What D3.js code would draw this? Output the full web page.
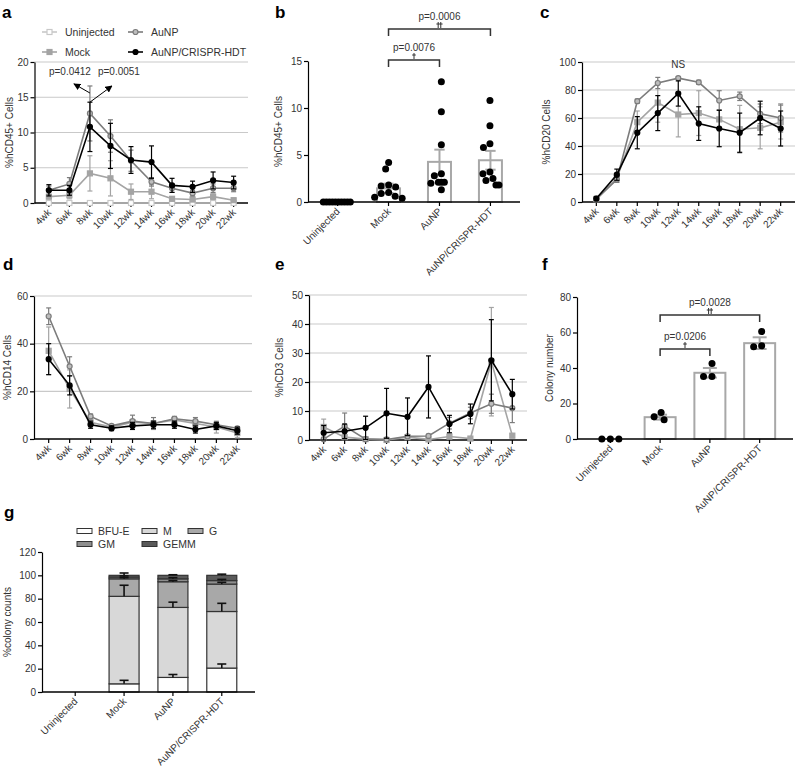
<!DOCTYPE html>
<html><head><meta charset="utf-8">
<script src="https://cdn.jsdelivr.net/npm/d3@7"></script>
<style>body{margin:0;background:#fff}svg text{font-family:"Liberation Sans",Arial,sans-serif}</style>
</head><body><svg id="c" width="800" height="769"></svg>
<script>
// ---------- DATA ----------
const weeks = ["4wk","6wk","8wk","10wk","12wk","14wk","16wk","18wk","20wk","22wk"];
const groups = ["Uninjected","Mock","AuNP","AuNP/CRISPR-HDT"];

// a: %hCD45+ over time
const aUninjected = [0,0,0,0,0,0,0,0,0,0];
const aUninjectedErr = [0,0,0,0,0,0,0,0,0,0];
const aMock = [0.9,1.1,4.2,3.5,1.6,1.6,0.6,0.5,0.9,0.4];
const aMockErr = [0.3,0.5,2.5,2.5,1.1,1.0,0.3,0.3,0.4,0.2];
const aAuNP = [1.8,2.7,12.7,9.5,6.0,3.0,2.1,1.4,2.1,2.1];
const aAuNPErr = [0.6,0.9,3.9,2.3,1.5,0.6,0.6,0.4,0.6,0.5];
const aHDT = [1.8,1.8,10.8,8.1,6.1,5.8,2.5,2.3,3.2,2.9];
const aHDTErr = [0.8,0.7,3.5,3.2,1.9,2.3,1.0,0.8,1.2,0.9];

// b: %hCD45+ individual mice
const bUninjected = [0,0,0,0,0,0,0,0,0,0];
const bMock = [4.2,3.5,1.8,1.7,1.6,1.0,0.9,0.6,0.5,0.4];
const bAuNP = [12.8,9.6,6.1,3.0,2.8,2.1,2.1,2.1,2.0,1.3];
const bHDT = [10.8,8.1,6.2,5.8,3.2,3.0,2.5,2.3,1.8,1.8];
const bMeans = [0,1.45,4.27,4.44];
const bErr = [0,0.5,1.3,1.0];

// c: %hCD20
const cMock = [2,17,57,71,62.5,63.5,59,52,53,57];
const cMockErr = [1,3,8,14,16,16,7,17,15,12];
const cAuNP = [2,16,72,85,88.5,85.5,72.5,75.5,63,60];
const cAuNPErr = [1,2,1.5,4,1,1.5,7,3,7,10];
const cHDT = [2.5,19.5,49.5,63.5,77.5,56,52.5,49.5,60,52.5];
const cHDTErr = [1.5,4,11.5,12.5,9,12,13,14,12,12.5];

// d: %hCD14
const dMock = [37,21,7,5,7,6.5,8,6.5,5,2.5];
const dMockErr = [10,8,1.5,0.5,1,1,1,1,2.5,2];
const dAuNP = [51.5,30.5,9.5,5.5,7.5,6.5,8.5,7.5,6,4.5];
const dAuNPErr = [3.5,4,1,0.5,2.5,2.5,1,1.5,1,0.5];
const dHDT = [33.5,22.5,6,4.5,5.5,6,6,4,5.5,3.5];
const dHDTErr = [6.5,4,1.5,1,1.5,1.5,1.5,1.5,1.5,1.5];

// e: %hCD3
const eMock = [4.5,1,0.3,0,1,0.2,1.2,0.5,27,1.5];
const eMockErr = [2.7,0.5,0.3,0,0.5,0.2,0.8,0.2,18.7,0.7];
const eAuNP = [0.3,4.8,0.3,0.2,1.3,1.4,5.8,9.3,12.5,11];
const eAuNPErr = [0.3,4.5,0.3,0.2,0.5,0.5,2,2,3.3,5];
const eHDT = [2.5,3,4.2,9.2,8,18.3,5.5,9,27.5,15.8];
const eHDTErr = [2.5,2.5,4,8.6,6.5,10.7,3,3.4,14,5.1];

// f: colony number
const fUninjected = [0,0,0];
const fMock = [15,12.6,10.8];
const fAuNP = [42.5,35.2,35.2];
const fHDT = [60.5,52,52.5];
const fMeans = [0,12.3,37.3,54];
const fErr = [0,1.4,2.7,3.3];

// g: % colony counts (stacked)
const gTypes = ["BFU-E","M","G","GM","GEMM"];
const gBFUE = [0,7,12.5,20.5];
const gM = [0,75,60,48.5];
const gG = [0,15,22,23.5];
const gGM = [0,1.5,2.5,3];
const gGEMM = [0,1.5,3,4.5];
const gBFUEErr = [0,3,2.5,3.5];
const gMErr = [0,9.5,4.5,7];
const gGErr = [0,1,1,1.5];
const gGMErr = [0,1,1,1];
const gGEMMErr = [0,2,0.5,1];

// ---------- STYLE ----------
const FONT = '"Liberation Sans",Arial,sans-serif';
const seriesStyle = {
  "Uninjected": {stroke:"#c8c8c8", fill:"#ffffff", shape:"square"},
  "Mock": {stroke:"#a4a4a4", fill:"#a4a4a4", shape:"square"},
  "AuNP": {stroke:"#7c7c7c", fill:"#bdbdbd", shape:"circle"},
  "AuNP/CRISPR-HDT": {stroke:"#000000", fill:"#000000", shape:"circle"}
};
const stackFill = {"BFU-E":"#ffffff","M":"#d8d8d8","G":"#a8a8a8","GM":"#8e8e8e","GEMM":"#5a5a5a"};

const svg = d3.select("#c");

function txt(g, x, y, s, opts={}) {
  return g.append("text").attr("x",x).attr("y",y).text(s)
    .attr("font-family",FONT).attr("font-size",opts.size||10)
    .attr("fill",opts.fill||"#333").attr("text-anchor",opts.anchor||"start")
    .attr("font-weight",opts.weight||"normal");
}

function panelLetter(x, y, s) {
  txt(svg, x, y, s, {size:17, weight:"bold", fill:"#000"});
}

function yAxis(g, y, ticks, left, label, labelOff) {
  const ax = g.append("g").attr("transform",`translate(${left},0)`)
    .call(d3.axisLeft(y).tickValues(ticks).tickSize(4).tickSizeOuter(0).tickPadding(2));
  ax.select(".domain").attr("stroke","#000").attr("stroke-width",1.2);
  ax.selectAll(".tick line").attr("stroke","#000").attr("stroke-width",1.2);
  ax.selectAll("text").attr("font-family",FONT).attr("font-size",10).attr("fill","#333");
  const [b,t] = y.range();
  g.append("text").attr("transform",`translate(${left-labelOff},${(b+t)/2}) rotate(-90)`)
    .attr("text-anchor","middle").attr("font-family",FONT).attr("font-size",10)
    .attr("fill","#333").text(label);
}

function xAxisCat(g, x, domain, left, right, bottom) {
  g.append("line").attr("x1",left).attr("x2",right).attr("y1",bottom).attr("y2",bottom)
    .attr("stroke","#000").attr("stroke-width",1.6);
  domain.forEach(d => {
    const cx = x(d);
    g.append("line").attr("x1",cx).attr("x2",cx).attr("y1",bottom).attr("y2",bottom+4)
      .attr("stroke","#000").attr("stroke-width",1.2);
    g.append("text").attr("transform",`translate(${cx+3},${bottom+10}) rotate(-45)`)
      .attr("text-anchor","end").attr("font-family",FONT).attr("font-size",10)
      .attr("fill","#333").text(d);
  });
}

function errBar(g, cx, yLo, yHi, color, cap, w) {
  g.append("line").attr("x1",cx).attr("x2",cx).attr("y1",yLo).attr("y2",yHi)
    .attr("stroke",color).attr("stroke-width",w||1.2);
  [yLo,yHi].forEach(yy => g.append("line").attr("x1",cx-cap/2).attr("x2",cx+cap/2)
    .attr("y1",yy).attr("y2",yy).attr("stroke",color).attr("stroke-width",w||1.2));
}

function marker(g, cx, cy, st, size) {
  if (st.shape === "square") {
    g.append("rect").attr("x",cx-size/2).attr("y",cy-size/2).attr("width",size).attr("height",size)
      .attr("fill",st.fill).attr("stroke",st.stroke).attr("stroke-width",1.2);
  } else {
    g.append("circle").attr("cx",cx).attr("cy",cy).attr("r",size/2)
      .attr("fill",st.fill).attr("stroke",st.stroke).attr("stroke-width",1.2);
  }
}

function linePanel(p) {
  const g = svg.append("g");
  const x = d3.scalePoint().domain(weeks).range([p.left,p.right]).padding(0.7);
  const y = d3.scaleLinear().domain([0,p.max]).range([p.bottom,p.top]);
  p.ticks.filter(t => t>0).forEach(t => g.append("line").attr("x1",p.left).attr("x2",p.right)
    .attr("y1",y(t)).attr("y2",y(t)).attr("stroke","#c9c9c9").attr("stroke-width",1.2));
  yAxis(g, y, p.ticks, p.left, p.ylabel, p.labelOff);
  xAxisCat(g, x, weeks, p.left, p.right, p.bottom);
  p.series.forEach(s => {
    const st = seriesStyle[s.name];
    s.vals.forEach((v,i) => {
      const e = s.errs[i];
      if (e > 0) errBar(g, x(weeks[i]), y(Math.max(0,v-e)), y(v+e), st.stroke, 5, 1.2);
    });
    const line = d3.line().x((v,i) => x(weeks[i])).y(v => y(v));
    g.append("path").attr("d",line(s.vals)).attr("fill","none")
      .attr("stroke",st.stroke).attr("stroke-width",1.6);
    s.vals.forEach((v,i) => marker(g, x(weeks[i]), y(v), st, 5));
  });
  return {g,x,y};
}

function swarm(vals, y, sep, tieSep) {
  const placed = [];
  const order = vals.map((v,i)=>({v,i})).sort((a,b)=>b.v-a.v);
  const out = new Array(vals.length);
  order.forEach(o => {
    const py = y(o.v);
    let k = 0, dx = 0;
    while (true) {
      dx = (k%2===0 ? 1 : -1) * Math.ceil(k/2) * 0.5;
      const ok = placed.every(q => {
        const dy = Math.abs(q.py - py);
        const need = dy < 0.5 ? tieSep : sep;
        return (q.dx-dx)*(q.dx-dx) + dy*dy >= need*need;
      });
      if (ok) break;
      k++;
    }
    placed.push({dx,py});
    out[o.i] = dx;
  });
  const m = (d3.max(out)+d3.min(out))/2;
  return out.map(d => d - m*0.5);
}

// dagger marks drawn as strokes ("†" single, "††" double)
function dagger(g, cx, yb, n) {
  const h = 6, gap = 2.6;
  const xs = n === 1 ? [cx] : [cx-gap/2, cx+gap/2];
  xs.forEach(xx => g.append("line").attr("x1",xx).attr("x2",xx).attr("y1",yb-h).attr("y2",yb)
    .attr("stroke","#333").attr("stroke-width",1));
  g.append("line").attr("x1",xs[0]-1.8).attr("x2",xs[xs.length-1]+1.8)
    .attr("y1",yb-h+2).attr("y2",yb-h+2).attr("stroke","#333").attr("stroke-width",1);
}

function dotBarPanel(p) {
  const g = svg.append("g");
  const x = d3.scalePoint().domain(groups).range([p.left,p.right]).padding(p.pad);
  const y = d3.scaleLinear().domain([0,p.max]).range([p.bottom,p.top]);
  yAxis(g, y, p.ticks, p.left, p.ylabel, p.labelOff);
  p.means.forEach((m,i) => {
    if (m <= 0) return;
    g.append("rect").attr("x",x(groups[i])-p.barW/2).attr("y",y(m))
      .attr("width",p.barW).attr("height",y(0)-y(m))
      .attr("fill","#fff").attr("stroke","#a8a8a8").attr("stroke-width",2);
  });
  xAxisCat(g, x, groups, p.left, p.right, p.bottom);
  p.means.forEach((m,i) => {
    if (p.errs[i] > 0) errBar(g, x(groups[i]), y(m-p.errs[i]), y(m+p.errs[i]), "#a8a8a8", p.barW*0.45, 2);
  });
  p.points.forEach((arr,i) => {
    const offs = swarm(arr, y, p.sep, p.tieSep);
    arr.forEach((v,j) => g.append("circle").attr("cx",x(groups[i])+offs[j]).attr("cy",y(v))
      .attr("r",3.5).attr("fill","#000"));
  });
  p.brackets.forEach(b => {
    const x1 = x(groups[b.from]), x2 = x(groups[b.to]);
    const yb = p.top + b.dy;
    g.append("path").attr("d",`M${x1},${yb+7}V${yb}H${x2}V${yb+7}`)
      .attr("fill","none").attr("stroke","#333").attr("stroke-width",1.5);
    dagger(g, (x1+x2)/2, yb-1, b.mark);
    txt(g,(x1+x2)/2, yb-9, b.label, {anchor:"middle", size:10});
  });
  return {g,x,y};
}

// ---------- PANEL a ----------
panelLetter(2,18,"a");
const A = linePanel({left:34.5,right:248,top:62,bottom:203,max:20,ticks:[0,5,10,15,20],
  ylabel:"%hCD45+ Cells", labelOff:22,
  series:[{name:"Uninjected",vals:aUninjected,errs:aUninjectedErr},
          {name:"Mock",vals:aMock,errs:aMockErr},
          {name:"AuNP",vals:aAuNP,errs:aAuNPErr},
          {name:"AuNP/CRISPR-HDT",vals:aHDT,errs:aHDTErr}]});
(function(){
  const items = [["Uninjected",42,32],["AuNP",128,32],["Mock",42,52],["AuNP/CRISPR-HDT",128,52]];
  items.forEach(([n,lx,ly]) => {
    const st = seriesStyle[n];
    svg.append("line").attr("x1",lx).attr("x2",lx+15).attr("y1",ly).attr("y2",ly)
      .attr("stroke",st.stroke).attr("stroke-width",1.6);
    marker(svg, lx+7.5, ly, st, 5);
    txt(svg, lx+23, ly+4, n, {size:10.5});
  });
})();
(function(){
  const defs = svg.append("defs");
  defs.append("marker").attr("id","arr").attr("viewBox","0 0 10 10").attr("refX",9).attr("refY",5)
    .attr("markerWidth",7).attr("markerHeight",7).attr("orient","auto")
    .append("path").attr("d","M0,0L10,5L0,10z").attr("fill","#000");
  const cx = A.x("8wk");
  svg.append("line").attr("x1",cx).attr("y1",A.y(15.6)).attr("x2",cx-16).attr("y2",A.y(16.9))
    .attr("stroke","#000").attr("stroke-width",1).attr("marker-end","url(#arr)");
  svg.append("line").attr("x1",cx).attr("y1",A.y(14.3)).attr("x2",cx+22).attr("y2",A.y(16.6))
    .attr("stroke","#000").attr("stroke-width",1).attr("marker-end","url(#arr)");
  txt(svg, cx-20, A.y(18.1), "p=0.0412", {anchor:"middle"});
  txt(svg, cx+29, A.y(18.1), "p=0.0051", {anchor:"middle"});
})();

// ---------- PANEL b ----------
panelLetter(275,18,"b");
dotBarPanel({left:308,right:520,top:61,bottom:202,max:15,ticks:[0,5,10,15],pad:0.58,barW:23,
  ylabel:"%hCD45+ Cells", labelOff:26, means:bMeans, errs:bErr,
  points:[bUninjected,bMock,bAuNP,bHDT], sep:7.2, tieSep:2.8,
  brackets:[{from:1,to:2,dy:-1,label:"p=0.0076",mark:1},
            {from:1,to:3,dy:-32,label:"p=0.0006",mark:2}]});

// ---------- PANEL c ----------
panelLetter(540,18,"c");
const C = linePanel({left:582,right:795,top:62,bottom:202,max:100,ticks:[0,20,40,60,80,100],
  ylabel:"%hCD20 Cells", labelOff:32,
  series:[{name:"Mock",vals:cMock,errs:cMockErr},
          {name:"AuNP",vals:cAuNP,errs:cAuNPErr},
          {name:"AuNP/CRISPR-HDT",vals:cHDT,errs:cHDTErr}]});
txt(svg, C.x("12wk"), C.y(96), "NS", {anchor:"middle"});

// ---------- PANEL d ----------
panelLetter(3,270,"d");
linePanel({left:34,right:252,top:296,bottom:439,max:60,ticks:[0,20,40,60],
  ylabel:"%hCD14 Cells", labelOff:23,
  series:[{name:"Mock",vals:dMock,errs:dMockErr},
          {name:"AuNP",vals:dAuNP,errs:dAuNPErr},
          {name:"AuNP/CRISPR-HDT",vals:dHDT,errs:dHDTErr}]});

// ---------- PANEL e ----------
panelLetter(275,270,"e");
linePanel({left:309,right:527,top:295,bottom:440,max:50,ticks:[0,10,20,30,40,50],
  ylabel:"%hCD3 Cells", labelOff:26,
  series:[{name:"Mock",vals:eMock,errs:eMockErr},
          {name:"AuNP",vals:eAuNP,errs:eAuNPErr},
          {name:"AuNP/CRISPR-HDT",vals:eHDT,errs:eHDTErr}]});

// ---------- PANEL f ----------
panelLetter(542,270,"f");
dotBarPanel({left:577,right:793,top:297,bottom:439,max:80,ticks:[0,20,40,60,80],pad:0.67,barW:31,
  ylabel:"Colony number", labelOff:24, means:fMeans, errs:fErr,
  points:[fUninjected,fMock,fAuNP,fHDT], sep:8, tieSep:8.3,
  brackets:[{from:1,to:2,dy:52,label:"p=0.0206",mark:1},
            {from:1,to:3,dy:18,label:"p=0.0028",mark:2}]});

// ---------- PANEL g ----------
panelLetter(4,518,"g");
(function(){
  const p = {left:42,right:255,top:552,bottom:692,max:120,ticks:[0,20,40,60,80,100,120]};
  const g = svg.append("g");
  const x = d3.scalePoint().domain(groups).range([p.left,p.right]).padding(0.68);
  const y = d3.scaleLinear().domain([0,p.max]).range([p.bottom,p.top]);
  yAxis(g, y, p.ticks, p.left, "%colony counts", 31);
  const layers = [[gBFUE,gBFUEErr],[gM,gMErr],[gG,gGErr],[gGM,gGMErr],[gGEMM,gGEMMErr]];
  const barW = 30;
  groups.forEach((grp,i) => {
    let base = 0;
    const tops = [];
    layers.forEach(([vals,errs],k) => {
      const v = vals[i];
      if (v > 0) {
        g.append("rect").attr("x",x(grp)-barW/2).attr("y",y(base+v)).attr("width",barW)
          .attr("height",y(base)-y(base+v)).attr("fill",stackFill[gTypes[k]])
          .attr("stroke","#333").attr("stroke-width",1.2);
        tops.push([base+v, errs[i]]);
      }
      base += v;
    });
    tops.forEach(([t,e]) => {
      if (e <= 0) return;
      g.append("line").attr("x1",x(grp)).attr("x2",x(grp)).attr("y1",y(t)).attr("y2",y(t+e))
        .attr("stroke","#111").attr("stroke-width",1.6);
      g.append("line").attr("x1",x(grp)-4.5).attr("x2",x(grp)+4.5).attr("y1",y(t+e)).attr("y2",y(t+e))
        .attr("stroke","#111").attr("stroke-width",1.6);
    });
  });
  xAxisCat(g, x, groups, p.left, p.right, p.bottom);
  const leg = [["BFU-E",77,531],["M",142,531],["G",188,531],["GM",77,544],["GEMM",142,544]];
  leg.forEach(([n,lx,ly]) => {
    svg.append("rect").attr("x",lx).attr("y",ly-2.5).attr("width",15).attr("height",5)
      .attr("fill",stackFill[n]).attr("stroke","#333").attr("stroke-width",1);
    txt(svg, lx+21, ly+4, n, {size:10.5});
  });
})();
</script></body></html>
